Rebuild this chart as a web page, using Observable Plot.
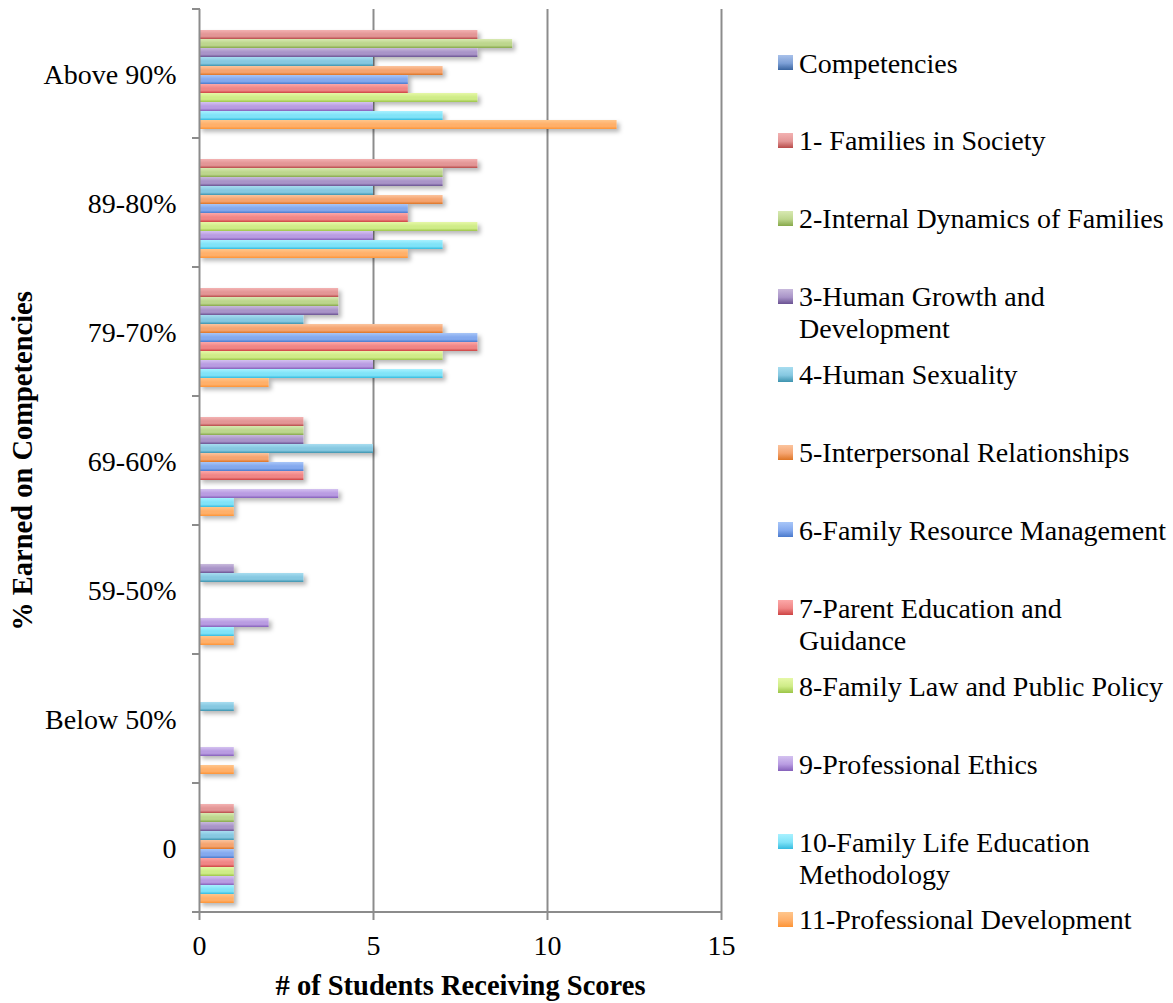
<!DOCTYPE html>
<html><head><meta charset="utf-8">
<script src="https://cdn.jsdelivr.net/npm/d3@7"></script>
<script src="https://cdn.jsdelivr.net/npm/@observablehq/plot@0.6"></script>
<style>
body{margin:0;background:#fff;}
#wrap{position:relative;width:1173px;height:1003px;font-family:"Liberation Serif",serif;}
#wrap svg{position:absolute;left:0;top:0;display:block;}
.leg{position:absolute;left:778px;}
.sw{position:absolute;left:0;top:0;width:15px;height:15px;}
.lt{position:absolute;left:21px;top:-7.5px;font-size:28px;line-height:32px;white-space:pre;color:#000;}
</style></head><body><div id="wrap"></div>
<script>
// ---- data ----
const categories = ["Above 90%", "89-80%", "79-70%", "69-60%", "59-50%", "Below 50%", "0"];
const seriesNames = [
  "Competencies",
  "1- Families in Society",
  "2-Internal Dynamics of Families",
  "3-Human Growth and Development",
  "4-Human Sexuality",
  "5-Interpersonal Relationships",
  "6-Family Resource Management",
  "7-Parent Education and Guidance",
  "8-Family Law and Public Policy",
  "9-Professional Ethics",
  "10-Family Life Education Methodology",
  "11-Professional Development"
];
const legendLabels = [
  "Competencies",
  "1- Families in Society",
  "2-Internal Dynamics of Families",
  "3-Human Growth and\nDevelopment",
  "4-Human Sexuality",
  "5-Interpersonal Relationships",
  "6-Family Resource Management",
  "7-Parent Education and\nGuidance",
  "8-Family Law and Public Policy",
  "9-Professional Ethics",
  "10-Family Life Education\nMethodology",
  "11-Professional Development"
];
const competencies          = [null, null, null, null, null, null, null];
const familiesInSociety     = [8, 8, 4, 3, 0, 0, 1];
const internalDynamics      = [9, 7, 4, 3, 0, 0, 1];
const humanGrowth           = [8, 7, 4, 3, 1, 0, 1];
const humanSexuality        = [5, 5, 3, 5, 3, 1, 1];
const interpersonal         = [7, 7, 7, 2, 0, 0, 1];
const familyResource        = [6, 6, 8, 3, 0, 0, 1];
const parentEducation       = [6, 6, 8, 3, 0, 0, 1];
const familyLaw             = [8, 8, 7, 0, 0, 0, 1];
const professionalEthics    = [5, 5, 5, 4, 2, 1, 1];
const fleMethodology        = [7, 7, 7, 1, 1, 0, 1];
const professionalDevelop   = [12, 6, 2, 1, 1, 1, 1];
const seriesValues = [competencies, familiesInSociety, internalDynamics, humanGrowth, humanSexuality,
  interpersonal, familyResource, parentEducation, familyLaw, professionalEthics, fleMethodology, professionalDevelop];
const xTicks = [0, 5, 10, 15];

// ---- styles ----
const palette = [
  ["#a9c1ea", "#7c9fd6", "#39649f"],
  ["#f3b2b2", "#e39696", "#b84b49"],
  ["#d8e9b2", "#bdd68d", "#86a84a"],
  ["#c8b9dc", "#a994c8", "#6a5292"],
  ["#a8ddf0", "#86c8e1", "#3d93ae"],
  ["#fbc49e", "#f5a470", "#dd7526"],
  ["#a8c6f8", "#84a9ee", "#4a7acc"],
  ["#fca8a8", "#f08686", "#cd4343"],
  ["#e6f8a8", "#cfec88", "#9cc548"],
  ["#d4c2f0", "#b99ce2", "#8560ba"],
  ["#a8f1ff", "#80e3f8", "#35bbdf"],
  ["#ffc68c", "#ffb06a", "#fd9436"]
];
const axisGrey = "#8c8c8c";

const rows = [];
seriesNames.forEach((s, si) => seriesValues[si].forEach((v, ci) => {
  if (v) rows.push({category: categories[ci], series: s, value: v});
}));

const chart = Plot.plot({
  width: 1173, height: 1003,
  marginLeft: 199, marginRight: 452, marginTop: 8, marginBottom: 91,
  style: {fontFamily: '"Liberation Serif", serif', fontSize: "28px", color: "#000", background: "none", overflow: "visible"},
  x: {domain: [0, 15], axis: null},
  y: {domain: seriesNames, paddingInner: 0, paddingOuter: 0.75, align: 0.55, axis: null},
  fy: {domain: categories, padding: 0, axis: null},
  color: {domain: seriesNames, range: seriesNames.map((d, i) => `url(#grad${i})`)},
  marks: [
    Plot.ruleX(xTicks.slice(1), {stroke: axisGrey, strokeWidth: 2}),
    Plot.barX(rows, {x: "value", y: "series", fy: "category", fill: "series"}),
    Plot.ruleX([0], {stroke: axisGrey, strokeWidth: 2}),
    Plot.axisX({ticks: xTicks, tickSize: 8, tickPadding: 15, stroke: axisGrey, strokeWidth: 2, fill: "#000", label: null}),
    Plot.axisFy({anchor: "left", tickSize: 0, tickPadding: 23, label: null, fill: "#000", dy: 1}),
    Plot.text(["# of Students Receiving Scores"], {text: d => d, facet: "super", frameAnchor: "bottom",
      textAnchor: "middle", lineAnchor: "middle", dy: 73, fontWeight: "bold", fontSize: 28.5}),
    Plot.text(["% Earned on Competencies"], {text: d => d, facet: "super", frameAnchor: "left",
      textAnchor: "middle", lineAnchor: "middle", dx: -177, rotate: -90, fontWeight: "bold", fontSize: 28.5})
  ]
});

// gradients + shadow
const svg = d3.select(chart);
const defs = svg.insert("defs", ":first-child");
palette.forEach((c, i) => {
  const g = defs.append("linearGradient").attr("id", "grad" + i)
    .attr("x1", 0).attr("y1", 0).attr("x2", 0).attr("y2", 1);
  [[0, c[0]], [0.45, c[1]], [0.7, c[1]], [1, c[2]]].forEach(([o, col]) =>
    g.append("stop").attr("offset", o).attr("stop-color", col));
});
const f = defs.append("filter").attr("id", "shadow").attr("filterUnits", "userSpaceOnUse")
  .attr("x", -100).attr("y", -200).attr("width", 1400).attr("height", 1400);
f.append("feDropShadow").attr("dx", 3).attr("dy", 3).attr("stdDeviation", 2)
  .attr("flood-color", "#000").attr("flood-opacity", 0.28);
svg.selectAll('g[aria-label="bar"]').attr("filter", "url(#shadow)");

// boundary ticks on the category axis and the baseline, from the plot's scales
const fy = chart.scale("fy"), xs = chart.scale("x");
const last = categories[categories.length - 1];
const bounds = categories.map(c => fy.apply(c)).concat([fy.apply(last) + fy.bandwidth]);
const x0 = xs.apply(0), x15 = xs.apply(15);
const ag = svg.append("g").attr("stroke", axisGrey).attr("stroke-width", 2);
ag.selectAll("line.b").data(bounds).join("line").attr("class", "b")
  .attr("x1", x0 - 7).attr("x2", x0 + 1).attr("y1", d => d).attr("y2", d => d);
ag.append("line").attr("x1", x0 - 7).attr("x2", x15 + 1)
  .attr("y1", bounds[bounds.length - 1]).attr("y2", bounds[bounds.length - 1]);

const wrap = document.getElementById("wrap");
wrap.appendChild(chart);

// legend
const legendStep = 77.9, legendTop = 55;
legendLabels.forEach((lab, i) => {
  const item = document.createElement("div");
  item.className = "leg";
  item.style.top = (legendTop + i * legendStep) + "px";
  const sw = document.createElement("div");
  sw.className = "sw";
  sw.style.background = `linear-gradient(to bottom, ${palette[i][0]}, ${palette[i][1]} 55%, ${palette[i][2]})`;
  const t = document.createElement("div");
  t.className = "lt";
  t.textContent = lab;
  item.appendChild(sw); item.appendChild(t);
  wrap.appendChild(item);
});
</script></body></html>
